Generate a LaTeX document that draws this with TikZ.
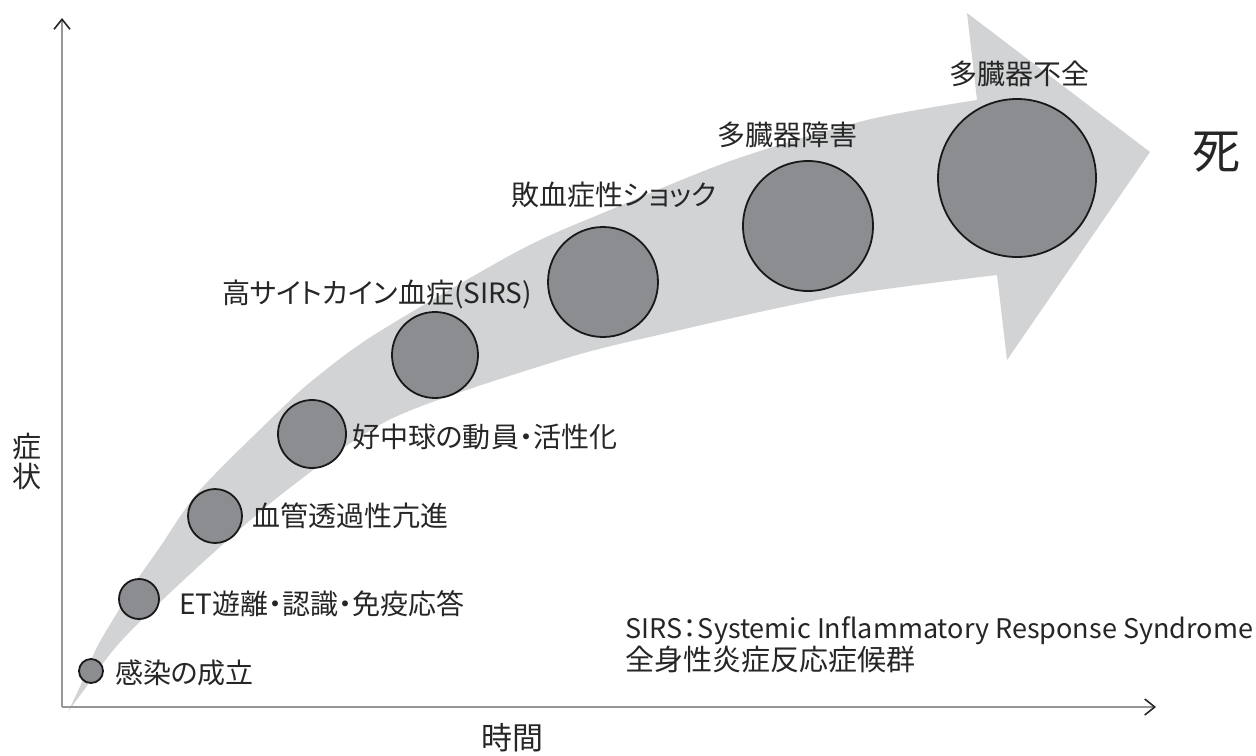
\documentclass[tikz,border=0pt]{standalone}
\usepackage{fontspec}
\setmainfont{Noto Sans CJK JP}[RawFeature=+palt]
\usetikzlibrary{positioning,arrows.meta}
\definecolor{bandgray}{RGB}{209,211,212}
\definecolor{ballgray}{RGB}{139,141,144}
\definecolor{axisgray}{RGB}{150,150,150}
\tikzset{%
  >={Straight Barb[length=5pt,width=8pt,color=black!85]},
  axis/.style={draw=axisgray,line width=0.8pt,->},
  stage/.style={circle,draw=black!90,fill=ballgray,line width=0.9pt,
    inner sep=0pt,outer sep=0pt},
  stagelabel/.style={inner sep=0pt,outer sep=0pt,anchor=west,
    font=\fontsize{14}{16}\selectfont,text=black!85}
}

\begin{document}
\begin{tikzpicture}[x=0.5pt,y=-0.5pt]
	%% page frame (pixel units, y pointing down)
	\useasboundingbox (0,0) rectangle (1256,755);

	%% the bent arrow carrying the stages
	\fill[bandgray] plot[smooth] coordinates {(68,712) (83,680) (97,647)
	    (117,613) (137,580) (160,547) (200,490) (277,413) (313,380)
	    (377,333) (520,250) (610,210) (733,160) (867,120) (977,100)}
	  -- (967,13) -- (1150,152) -- (1007,360)
	  -- plot[smooth] coordinates {(997,275) (833,297) (667,333)
	    (560,360) (393,418) (287,490) (200,565) (122,640) (84,690)
	    (68,712)} -- cycle;

	%% axes
	\coordinate (O) at (62,707);
	\coordinate (Ytop) at (62,18);
	\coordinate (Xend) at (1156,707);
	\draw[axis] (O) -- (Ytop);
	\draw[axis] (O) -- (Xend);
	\node[font=\fontsize{14.5}{15}\selectfont,align=center,text=black!85,
	  inner sep=0pt] (ylab) at (27,461) {症\\状};
	\node[font=\fontsize{15.5}{17}\selectfont,text=black!85,inner sep=0pt]
	  (xlab) at (512,738) {時間};

	%% stages, growing along the arrow (size = diameter in px / 2)
	\node[stage,minimum size=12pt] (s1) at (91,671) {};
	\node[stage,minimum size=20pt] (s2) at (139,599) {};
	\node[stage,minimum size=27pt] (s3) at (215,516) {};
	\node[stage,minimum size=34pt] (s4) at (312,434) {};
	\node[stage,minimum size=43pt] (s5) at (435,355) {};
	\node[stage,minimum size=55pt] (s6) at (603,282) {};
	\node[stage,minimum size=65pt] (s7) at (808,226) {};
	\node[stage,minimum size=79pt] (s8) at (1017,178) {};

	%% stage names
	\node[stagelabel,right=6pt of s1,yshift=-1pt] (l1) {感染の成立};
	\node[stagelabel,right=10pt of s2,yshift=-2.5pt] (l2) {ET遊離・認識・免疫応答};
	\node[stagelabel,right=5pt of s3] (l3) {血管透過性亢進};
	\node[stagelabel,right=3pt of s4,yshift=-1.5pt] (l4) {好中球の動員・活性化};
	\node[stagelabel] (l5) at (222,294) {高サイトカイン血症(SIRS)};
	\node[stagelabel] (l6) at (511,195) {敗血症性ショック};
	\node[stagelabel] (l7) at (717,135) {多臓器障害};
	\node[stagelabel] (l8) at (949,74) {多臓器不全};

	\node[font=\fontsize{24}{26}\selectfont,text=black!85,inner sep=0pt]
	  (death) at (1216,152) {死};

	%% footnote on the abbreviation
	\node[inner sep=0pt,anchor=base west,text=black!85,
	  font=\fontsize{13.5}{15}\selectfont] (sirs) at (625,638)
	  {SIRS\kern.04em：\kern.04em Systemic Inflammatory Response Syndrome};
	\node[inner sep=0pt,anchor=west,text=black!85,
	  font=\fontsize{14.5}{16}\selectfont] (sirsja) at (625,659)
	  {全身性炎症反応症候群};
\end{tikzpicture}
\end{document}
